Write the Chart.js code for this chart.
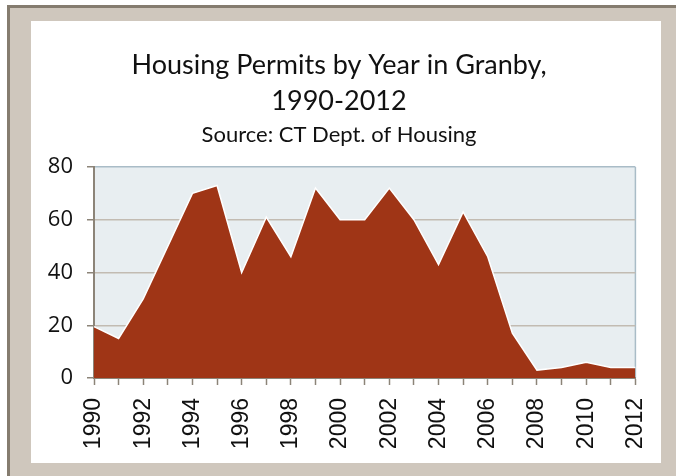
<!DOCTYPE html>
<html>
<head>
<meta charset="utf-8">
<script src="https://cdn.jsdelivr.net/npm/chart.js@4"></script>
<style>
html,body{margin:0;padding:0;background:#fff;}
#wrap{width:676px;height:476px;}
</style>
</head>
<body>
<div id="wrap"><canvas id="c" width="676" height="476"></canvas></div>
<script>
const years = ['1990','1991','1992','1993','1994','1995','1996','1997','1998','1999','2000','2001','2002','2003','2004','2005','2006','2007','2008','2009','2010','2011','2012'];
const permits = [19.5, 15, 30, 50, 70, 73, 40, 61, 46, 72, 60, 60, 72, 60, 43, 63, 46, 17, 3, 4, 6, 4, 4];
const yTicks = [0, 20, 40, 60, 80];
const titleLines = ['Housing Permits by Year in Granby,', '1990-2012'];
const subtitleText = 'Source: CT Dept. of Housing';

const frame = {
  id: 'frame',
  beforeDraw(chart) {
    const ctx = chart.ctx, W = chart.width, H = chart.height;
    ctx.save();
    ctx.fillStyle = '#ffffff';
    ctx.fillRect(0, 0, W, H);
    ctx.fillStyle = '#cfc7bd';
    ctx.fillRect(7, 5, W - 7, H - 5);
    ctx.fillStyle = '#857c6f';
    ctx.fillRect(7, 5, W - 7, 3);
    ctx.fillRect(7, 5, 3, H - 5);
    ctx.fillStyle = '#ffffff';
    ctx.fillRect(31, 21, 630, 442);
    const a = chart.chartArea;
    ctx.fillStyle = '#e8eef1';
    ctx.fillRect(a.left, a.top, a.right - a.left, a.bottom - a.top);
    ctx.strokeStyle = '#a9bcc7';
    ctx.lineWidth = 1.5;
    ctx.beginPath();
    ctx.moveTo(a.right, a.top);
    ctx.lineTo(a.right, a.bottom);
    ctx.stroke();
    ctx.restore();
  }
};

new Chart(document.getElementById('c'), {
  type: 'line',
  data: {
    labels: years,
    datasets: [{
      data: permits,
      fill: 'origin',
      backgroundColor: '#9f3516',
      borderColor: '#ffffff',
      borderWidth: 1.5,
      pointRadius: 0,
      tension: 0
    }]
  },
  plugins: [frame],
  options: {
    responsive: false,
    animation: false,
    devicePixelRatio: 1,
    layout: { padding: { left: 2, right: 0, top: 0, bottom: 18 } },
    plugins: {
      legend: { display: false },
      tooltip: { enabled: false },
      title: {
        display: true,
        text: titleLines,
        color: '#111',
        font: { family: 'Lato', size: 27, weight: 'normal', lineHeight: 36 / 27 },
        padding: { top: 47, bottom: 0 }
      },
      subtitle: {
        display: true,
        text: subtitleText,
        color: '#111',
        font: { family: 'Lato', size: 22, weight: 'normal', lineHeight: 1.2 },
        padding: { top: 3, bottom: 18.6 }
      }
    },
    scales: {
      x: {
        offset: false,
        afterFit(s) { s.height = 80; },
        grid: { display: true, drawOnChartArea: false, drawTicks: true, tickLength: 7, tickColor: '#8c8478', tickWidth: 1.5 },
        border: { display: true, color: '#8c8478', width: 2 },
        ticks: {
          autoSkip: false,
          minRotation: 90,
          maxRotation: 90,
          padding: 13,
          color: '#111',
          font: { family: 'Liberation Sans', size: 23 },
          callback(v, i) { return i % 2 === 0 ? years[i] : ''; }
        }
      },
      y: {
        min: 0,
        max: 80,
        afterFit(s) { s.width = 92; },
        afterBuildTicks(s) { s.ticks = yTicks.map(v => ({ value: v })); },
        grid: {
          color: c => (c.tick && c.tick.value === 80) ? '#a9bcc7' : '#c2bbb2',
          lineWidth: 1.5,
          tickLength: 7,
          tickColor: '#8c8478',
          tickWidth: 1.5
        },
        border: { display: true, color: '#8c8478', width: 2 },
        ticks: {
          padding: 14,
          color: '#111',
          font: { family: 'Open Sans', size: 22 }
        }
      },
      yRight: {
        position: 'right',
        display: true,
        afterFit(s) { s.width = 40; },
        grid: { display: false },
        border: { display: false },
        ticks: { display: false }
      }
    }
  }
});
</script>
</body>
</html>
